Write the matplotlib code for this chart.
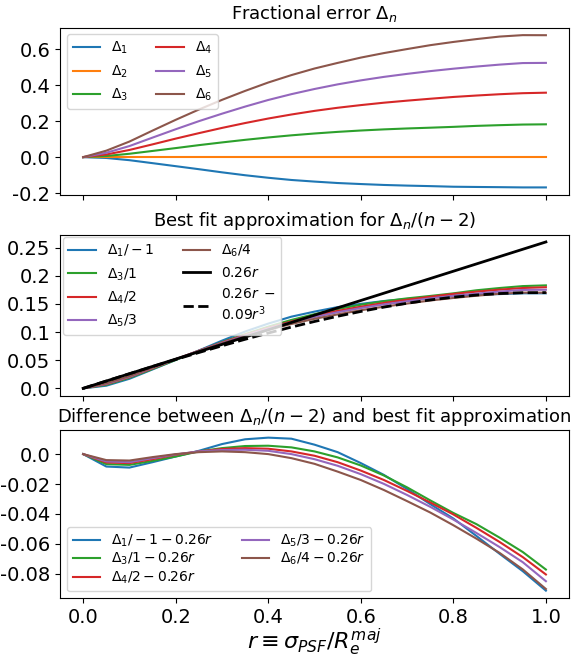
import numpy as np
import matplotlib
matplotlib.use("Agg")
import matplotlib.pyplot as plt
from matplotlib.ticker import FuncFormatter

# r = sigma_PSF / R_e^maj, sampled every 0.05
r = np.round(np.arange(0, 1.0001, 0.05), 2)

# fractional errors Delta_n
delta1 = [0, -0.0047, -0.017, -0.0336, -0.0504, -0.0672, -0.0847, -0.1009, -0.115, -0.1273, -0.1363,
          -0.1443, -0.15, -0.1551, -0.1587, -0.1616, -0.165, -0.1663, -0.1674, -0.1688, -0.1688]
delta2 = [0] * 21
delta3 = [0, 0.0063, 0.0188, 0.0345, 0.0504, 0.0668, 0.082, 0.0964, 0.1096, 0.1215, 0.1318,
          0.1408, 0.1484, 0.1547, 0.1598, 0.1641, 0.1687, 0.1742, 0.1782, 0.1816, 0.1829]
delta4 = [0, 0.0148, 0.04, 0.0712, 0.1032, 0.1336, 0.1628, 0.19, 0.2152, 0.2376, 0.2578,
          0.2752, 0.29, 0.3034, 0.3148, 0.3254, 0.3354, 0.3434, 0.3506, 0.3564, 0.3592]
delta5 = [0, 0.0243, 0.0618, 0.1089, 0.1554, 0.2004, 0.2421, 0.2817, 0.3186, 0.351, 0.3798,
          0.4056, 0.4278, 0.4473, 0.4641, 0.4794, 0.4929, 0.5049, 0.5157, 0.5244, 0.5253]
delta6 = [0, 0.036, 0.0868, 0.148, 0.208, 0.2652, 0.3192, 0.3692, 0.416, 0.4572, 0.494,
          0.5252, 0.5548, 0.58, 0.6024, 0.624, 0.642, 0.658, 0.672, 0.68, 0.6796]

deltas = [delta1, delta2, delta3, delta4, delta5, delta6]
colors = ["C0", "C1", "C2", "C3", "C4", "C5"]
slope = 0.26
cubic = 0.09

fmt = FuncFormatter(lambda v, p: str(round(v, 2)))

fig, axs = plt.subplots(3, 1, figsize=(5.76, 6.6), dpi=100, sharex=True)
axs[0].set_position([0.1042, 0.7045, 0.8837, 0.2538])
axs[1].set_position([0.1042, 0.4005, 0.8837, 0.2440])
axs[2].set_position([0.1042, 0.0935, 0.8837, 0.2550])

# top panel
for i, d in enumerate(deltas):
    n = i + 1
    axs[0].plot(r, d, color=colors[i], label=r"$\Delta_%d$" % n)
axs[0].set_title(r"Fractional error $\Delta_n$", fontsize=13)
axs[0].legend(loc="upper left", ncol=2, fontsize=10)
axs[0].set_yticks([-0.2, 0.0, 0.2, 0.4, 0.6])

# middle panel
for i, d in enumerate(deltas):
    n = i + 1
    if n == 2:
        continue
    axs[1].plot(r, np.array(d) / (n - 2), color=colors[i], label=r"$\Delta_%d/%d$" % (n, n - 2))
axs[1].plot(r, slope * r, color="k", lw=2, label=r"$0.26r$")
axs[1].plot(r, slope * r - cubic * r ** 3, color="k", lw=2, ls="--",
            label="$0.26r\\;-$\n$0.09r^3$")
axs[1].set_title(r"Best fit approximation for $\Delta_n/(n-2)$", fontsize=13)
axs[1].legend(loc="upper left", ncol=2, fontsize=10, borderaxespad=0.2)
axs[1].set_yticks([0, 0.05, 0.1, 0.15, 0.2, 0.25])

# bottom panel
for i, d in enumerate(deltas):
    n = i + 1
    if n == 2:
        continue
    axs[2].plot(r, np.array(d) / (n - 2) - slope * r, color=colors[i],
                label=r"$\Delta_%d/%d-0.26r$" % (n, n - 2))
axs[2].set_title(r"Difference between $\Delta_n/(n-2)$ and best fit approximation", fontsize=13)
axs[2].legend(loc="lower left", ncol=2, fontsize=10, labelspacing=0.15)
axs[2].set_yticks([-0.08, -0.06, -0.04, -0.02, 0.0])
axs[2].set_xlabel(r"$r\equiv\sigma_{PSF}/R_e^{maj}$", fontsize=16, labelpad=0)

for ax in axs:
    ax.yaxis.set_major_formatter(fmt)
    ax.tick_params(labelsize=14)

plt.savefig("out.png", dpi=100)
